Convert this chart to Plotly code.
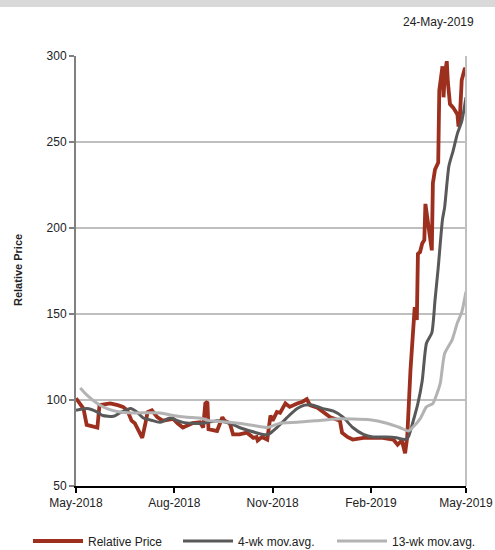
import plotly.graph_objects as go

# ---- data ----
price_dates = ["2018-05-24","2018-05-28","2018-05-31","2018-06-03","2018-06-13","2018-06-15","2018-06-25",
               "2018-07-02","2018-07-07","2018-07-11","2018-07-15","2018-07-18","2018-07-25","2018-07-28",
               "2018-07-30","2018-08-03","2018-08-08","2018-08-13","2018-08-23","2018-08-27","2018-09-01",
               "2018-09-10","2018-09-17","2018-09-20","2018-09-22","2018-09-24","2018-09-25","2018-10-03",
               "2018-10-08","2018-10-10","2018-10-15","2018-10-18","2018-10-24","2018-10-31","2018-11-06",
               "2018-11-09","2018-11-10","2018-11-14","2018-11-19","2018-11-22","2018-11-24","2018-11-28",
               "2018-12-01","2018-12-06","2018-12-10","2018-12-17","2018-12-22","2018-12-26","2018-12-29",
               "2019-01-05","2019-01-10","2019-01-17","2019-01-26","2019-01-28","2019-02-02","2019-02-07",
               "2019-02-17","2019-02-26","2019-03-07","2019-03-17","2019-03-21","2019-03-25","2019-03-28",
               "2019-03-30","2019-04-02","2019-04-06","2019-04-08","2019-04-09","2019-04-11","2019-04-13",
               "2019-04-15","2019-04-16","2019-04-19","2019-04-22","2019-04-23","2019-04-25","2019-04-28",
               "2019-04-29","2019-05-02","2019-05-03","2019-05-04","2019-05-06","2019-05-07","2019-05-09",
               "2019-05-12","2019-05-16","2019-05-17","2019-05-18","2019-05-20","2019-05-21","2019-05-23",
               "2019-05-24"]
price_values = [101, 98, 95, 85.5, 84, 97, 98,
                97, 96, 94, 88, 86.5, 78, 86.5,
                93, 94, 90, 88, 89, 86.5, 84,
                86.5, 87, 84, 98, 99, 83, 82,
                90, 88, 86.5, 80, 80, 81, 78,
                78.5, 76.5, 78.5, 77, 91, 88, 93,
                92.5, 98, 96, 98, 99, 100.5, 97,
                95.5, 93, 90, 88, 81, 78.5, 77,
                78, 78, 78, 77, 74, 76.5, 69,
                78.5, 117, 154, 146.5, 185, 186, 191,
                193, 214, 199, 187, 226, 234, 238,
                280, 294, 276, 288, 297, 285, 272,
                270, 266, 259, 261, 286, 288, 293,
                292]

ma4_dates = ["2018-05-24","2018-06-03","2018-06-13","2018-06-18","2018-06-28","2018-07-04","2018-07-14",
             "2018-07-20","2018-07-26","2018-08-04","2018-08-11","2018-08-20","2018-08-27","2018-09-01",
             "2018-09-10","2018-09-20","2018-10-03","2018-10-15","2018-10-24","2018-11-03","2018-11-15",
             "2018-11-20","2018-11-28","2018-12-07","2018-12-17","2018-12-24","2019-01-01","2019-01-10",
             "2019-01-20","2019-01-29","2019-02-07","2019-02-17","2019-02-26","2019-03-11","2019-03-20",
             "2019-03-28","2019-03-31","2019-04-04","2019-04-09","2019-04-13","2019-04-17","2019-04-22",
             "2019-04-25","2019-04-28","2019-05-02","2019-05-04","2019-05-08","2019-05-12","2019-05-16",
             "2019-05-20","2019-05-24"]
ma4_values = [94, 95, 93, 91, 90.5, 92.5, 95,
              93, 89.5, 88, 87, 89.5, 88, 87,
              86.5, 86.5, 88, 86.5, 84, 82, 80,
              80, 84, 89.5, 95, 97, 97, 95,
              93.5, 90, 84, 80, 78.5, 78.5, 78,
              77, 78.5, 86.5, 98, 111, 133, 139,
              158, 177, 205, 212, 236, 245, 255,
              262, 276]

ma13_dates = ["2018-05-28","2018-06-03","2018-06-13","2018-06-22","2018-07-04","2018-07-16","2018-08-11",
              "2018-08-23","2018-09-05","2018-09-17","2018-09-26","2018-10-15","2018-11-03","2018-11-19",
              "2018-12-01","2018-12-17","2019-01-05","2019-01-23","2019-02-23","2019-03-11","2019-03-23",
              "2019-03-31","2019-04-04","2019-04-11","2019-04-17","2019-04-23","2019-04-27","2019-04-30",
              "2019-05-04","2019-05-11","2019-05-16","2019-05-20","2019-05-24"]
ma13_values = [107, 103, 98, 95, 93, 92.5, 92.5,
               91, 90, 89.5, 88, 87, 85.5, 84,
               86.5, 87, 88, 89, 88.5, 86.5, 84,
               82, 84, 89, 96, 98, 104, 110,
               127, 135, 145, 151, 163]

tick_vals = ["2018-05-24", "2018-08-24", "2018-11-24", "2019-02-24", "2019-05-24"]
tick_text = ["May-2018", "Aug-2018", "Nov-2018", "Feb-2019", "May-2019"]
y_ticks = [50, 100, 150, 200, 250, 300]

FONT = "Liberation Sans, Arial, sans-serif"
W, H = 495, 550
L, R, T, B = 76, 29, 56, 64
PW, PH = W - L - R, H - T - B


def px_x(p):
    return (p - L) / PW


def px_y(p):
    return (H - B - p) / PH


fig = go.Figure()
fig.add_trace(go.Scatter(x=price_dates, y=price_values, mode="lines", name="Relative Price",
                         line=dict(color="#9c2f1e", width=3.8), legend="legend"))
fig.add_trace(go.Scatter(x=ma4_dates, y=ma4_values, mode="lines", name="4-wk mov.avg.",
                         line=dict(color="#595959", width=3, shape="spline", smoothing=0.6),
                         legend="legend2"))
fig.add_trace(go.Scatter(x=ma13_dates, y=ma13_values, mode="lines", name="13-wk mov.avg.",
                         line=dict(color="#b3b3b3", width=3, shape="spline", smoothing=0.6),
                         legend="legend3"))

leg_common = dict(orientation="h", yanchor="middle", y=px_y(541), xanchor="left",
                  font=dict(size=12, color="#222222"), bgcolor="rgba(0,0,0,0)",
                  itemwidth=50, borderwidth=0)

fig.update_layout(
    width=W, height=H,
    margin=dict(l=L, r=R, t=T, b=B, autoexpand=False),
    paper_bgcolor="white", plot_bgcolor="white",
    font=dict(family=FONT, size=12, color="#222222"),
    showlegend=True,
    legend=dict(leg_common, x=px_x(28)),
    legend2=dict(leg_common, x=px_x(178)),
    legend3=dict(leg_common, x=px_x(332)),
    xaxis=dict(type="date", range=["2018-05-24", "2019-05-24"],
               tickvals=tick_vals, ticktext=tick_text,
               showgrid=False, zeroline=False,
               showline=True, linecolor="black", linewidth=2,
               ticks="outside", ticklen=5, tickwidth=1.5, tickcolor="black",
               tickfont=dict(size=12, color="#222222")),
    yaxis=dict(range=[50, 300], tickvals=y_ticks,
               showgrid=True, gridcolor="#bfbfbf", gridwidth=1.5, zeroline=False,
               showline=True, linecolor="#808080", linewidth=2,
               ticks="outside", ticklen=5, tickwidth=1.5, tickcolor="#808080",
               tickfont=dict(size=12, color="#222222")),
    shapes=[
        dict(type="line", xref="paper", yref="paper", x0=1, x1=1, y0=0, y1=1,
             line=dict(color="#bfbfbf", width=2)),
        dict(type="rect", xref="paper", yref="paper", x0=px_x(-5), x1=px_x(500),
             y0=px_y(7), y1=px_y(-5), fillcolor="#d9d9d9", line=dict(width=0),
             layer="below"),
    ],
    annotations=[
        dict(text="24-May-2019", xref="paper", yref="paper", x=px_x(476), y=px_y(22),
             xanchor="right", yanchor="middle", showarrow=False, font=dict(size=12, color="#222222")),
        dict(text="<b>Relative Price</b>", xref="paper", yref="paper", x=px_x(18), y=px_y(270),
             xanchor="center", yanchor="middle", textangle=-90, showarrow=False,
             font=dict(size=11, color="#222222")),
    ],
)

fig.write_html("out.html",
               config={"displayModeBar": False},
               post_script="document.body.style.margin='0';document.body.style.overflow='hidden';")
